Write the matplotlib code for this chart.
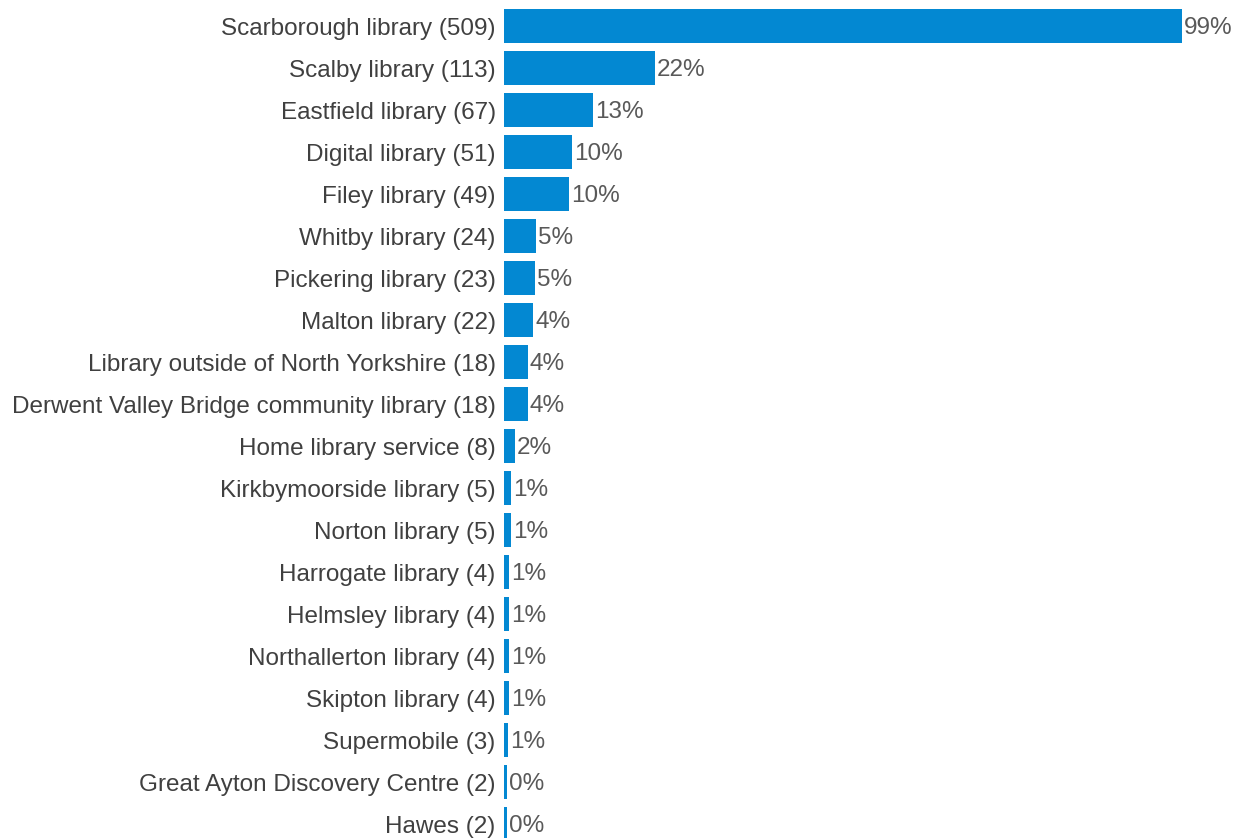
import matplotlib.pyplot as plt

plt.rcParams['font.family'] = ['Liberation Sans', 'DejaVu Sans']

libraries = ["Scarborough library", "Scalby library", "Eastfield library", "Digital library",
             "Filey library", "Whitby library", "Pickering library", "Malton library",
             "Library outside of North Yorkshire", "Derwent Valley Bridge community library",
             "Home library service", "Kirkbymoorside library", "Norton library",
             "Harrogate library", "Helmsley library", "Northallerton library",
             "Skipton library", "Supermobile", "Great Ayton Discovery Centre", "Hawes"]
counts = [509, 113, 67, 51, 49, 24, 23, 22, 18, 18, 8, 5, 5, 4, 4, 4, 4, 3, 2, 2]
percents = [99, 22, 13, 10, 10, 5, 5, 4, 4, 4, 2, 1, 1, 1, 1, 1, 1, 1, 0, 0]

labels = [f"{n} ({c})" for n, c in zip(libraries, counts)]
ypos = list(range(len(labels)))

fig = plt.figure(figsize=(12.37, 8.38), dpi=100)
ax = fig.add_axes([504/1237, -7/838, 733/1237, 840/838])

ax.barh(ypos, counts, height=0.81, color='#0388d2')
for y, c, p in zip(ypos, counts, percents):
    ax.text(c + 1.5, y, f"{p}%", va='center_baseline', ha='left', fontsize=17.5, color='#595959')

ax.set_yticks(ypos)
ax.set_yticklabels(labels, fontsize=17.5, color='#404040')
ax.tick_params(axis='y', length=0, pad=6)
ax.set_xticks([])
ax.set_xlim(0, 550.3)
ax.set_ylim(len(labels) - 0.5, -0.5)
for s in ax.spines.values():
    s.set_visible(False)

fig.savefig("out.png", dpi=100)
